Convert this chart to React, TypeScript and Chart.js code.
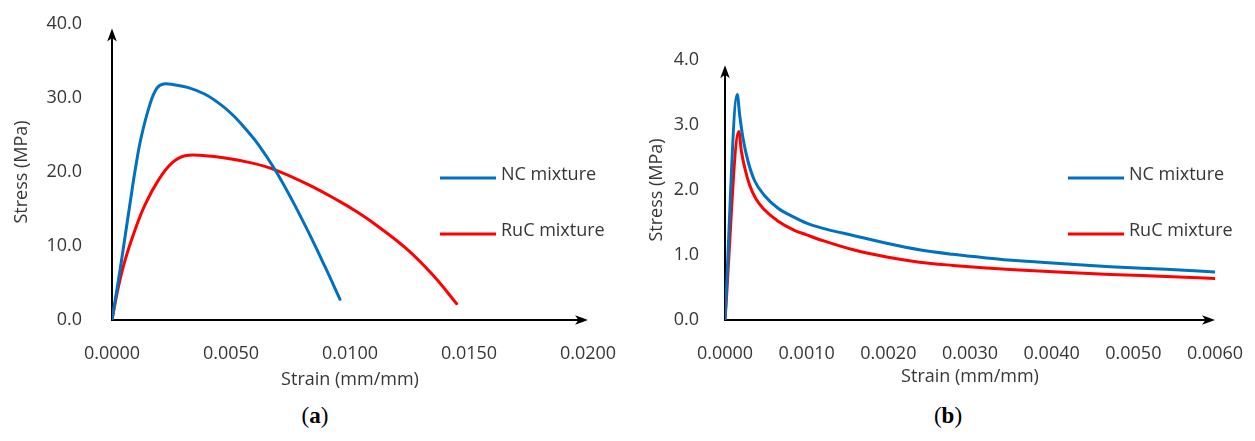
import React, { useEffect, useRef } from 'react';
import { Chart, registerables } from 'chart.js';

Chart.register(...registerables);

// ---------- shared ----------
const seriesLabels = ['NC mixture', 'RuC mixture'];
const seriesColors = ['#0070C0', '#FF0000'];

// ---------- panel (a) ----------
const aNcStrain = [0, 0.00034, 0.00055, 0.00076, 0.00097, 0.00122, 0.0016, 0.00188, 0.00216, 0.0026, 0.00321, 0.00391, 0.00461, 0.00517, 0.00559, 0.00615, 0.00685, 0.00755, 0.00825, 0.00895, 0.00958];
const aNcStress = [0, 6.8, 11.3, 15.8, 20.2, 24.6, 29.2, 31.3, 31.9, 31.8, 31.4, 30.5, 29.0, 27.4, 25.9, 23.7, 20.3, 16.3, 11.9, 7.2, 2.8];
const aRucStrain = [0, 0.00027, 0.00055, 0.00097, 0.00139, 0.00195, 0.00251, 0.00307, 0.00391, 0.00475, 0.0059, 0.00685, 0.00825, 0.00958, 0.0102, 0.01098, 0.01238, 0.0135, 0.01448];
const aRucStress = [0, 4.5, 8.1, 12.2, 15.6, 18.9, 21.2, 22.2, 22.2, 21.9, 21.2, 20.3, 18.3, 16.0, 14.8, 13.1, 9.6, 6.0, 2.2];
const aXTicks = [0, 0.005, 0.01, 0.015, 0.02];
const aYTicks = [0, 10, 20, 30, 40];

// ---------- panel (b) ----------
const bNcStrain = [0, 0.00015, 0.00018, 0.00022, 0.00028, 0.00036, 0.00048, 0.00065, 0.00085, 0.001, 0.0012, 0.00157, 0.00198, 0.00238, 0.00279, 0.0032, 0.0036, 0.0042, 0.00472, 0.0054, 0.006];
const bNcStress = [0, 3.47, 3.15, 2.8, 2.45, 2.15, 1.92, 1.72, 1.58, 1.49, 1.41, 1.3, 1.18, 1.08, 1.01, 0.955, 0.91, 0.86, 0.82, 0.78, 0.74];
const bRucStrain = [0, 0.00017, 0.0002, 0.00024, 0.0003, 0.00038, 0.00048, 0.00065, 0.00085, 0.001, 0.0012, 0.00157, 0.00198, 0.00238, 0.00279, 0.0032, 0.0036, 0.0042, 0.00472, 0.0054, 0.006];
const bRucStress = [0, 2.9, 2.6, 2.35, 2.08, 1.86, 1.7, 1.52, 1.38, 1.31, 1.22, 1.08, 0.97, 0.89, 0.84, 0.8, 0.77, 0.73, 0.7, 0.67, 0.64];
const bXTicks = [0, 0.001, 0.002, 0.003, 0.004, 0.005, 0.006];
const bYTicks = [0, 1, 2, 3, 4];

const FONT = "'Open Sans', 'Noto Sans', sans-serif";
const TEXT = '#363636';

function drawArrow(ctx: CanvasRenderingContext2D, x: number, y: number, angle: number) {
  ctx.save();
  ctx.translate(x, y);
  ctx.rotate(angle);
  ctx.beginPath();
  ctx.moveTo(0, 0);
  ctx.lineTo(-13, -4.8);
  ctx.lineTo(-9.5, 0);
  ctx.lineTo(-13, 4.8);
  ctx.closePath();
  ctx.fill();
  ctx.restore();
}

const axesLegendPlugin = {
  id: 'axesLegend',
  beforeDatasetsDraw(chart: any, _args: any, opts: any) {
    const { ctx } = chart;
    const xs = chart.scales.x;
    const ys = chart.scales.y;
    const x0 = xs.getPixelForValue(0);
    const y0 = ys.getPixelForValue(0);
    const xEnd = xs.getPixelForValue(xs.max);
    const yEnd = ys.getPixelForValue(opts.yArrowTip);
    ctx.save();
    ctx.strokeStyle = '#000';
    ctx.fillStyle = '#000';
    ctx.lineWidth = 2;
    ctx.beginPath();
    ctx.moveTo(x0, y0);
    ctx.lineTo(xEnd - 8, y0);
    ctx.stroke();
    ctx.beginPath();
    ctx.moveTo(x0, y0 + 1);
    ctx.lineTo(x0, yEnd + 8);
    ctx.stroke();
    drawArrow(ctx, xEnd, y0, 0);
    drawArrow(ctx, x0, yEnd, -Math.PI / 2);
    ctx.restore();
  },
  afterDatasetsDraw(chart: any, _args: any, opts: any) {
    const { ctx } = chart;
    ctx.save();
    chart.data.datasets.forEach((ds: any, i: number) => {
      const ly = opts.legendTop + i * opts.legendGap;
      ctx.strokeStyle = ds.borderColor;
      ctx.lineWidth = 3;
      ctx.lineCap = 'butt';
      ctx.beginPath();
      ctx.moveTo(opts.legendX, ly);
      ctx.lineTo(opts.legendX + 56, ly);
      ctx.stroke();
      ctx.fillStyle = TEXT;
      ctx.font = `18px ${FONT}`;
      ctx.textBaseline = 'middle';
      ctx.textAlign = 'left';
      ctx.fillText(ds.label, opts.legendX + 61, ly - 3);
    });
    ctx.restore();
  },
};

type Panel = {
  series: { x: number[]; y: number[] }[];
  xTicks: number[];
  yTicks: number[];
  xDigits: number;
  yDigits: number;
  yArrowTip: number;
  tension: number;
  mode: string;
  padTop: number;
  yWidth: number;
  yTickPad: number;
  yTitlePad: number;
  xTitlePad: number;
};

function clearPadding(scale: any) {
  scale.paddingLeft = 0;
  scale.paddingRight = 0;
  scale.paddingTop = 0;
  scale.paddingBottom = 0;
}

function makeConfig(p: Panel): any {
  return {
    type: 'line',
    data: {
      datasets: p.series.map((s, i) => ({
        label: seriesLabels[i],
        data: s.x.map((x, k) => ({ x, y: s.y[k] })),
        borderColor: seriesColors[i],
        backgroundColor: seriesColors[i],
        borderWidth: 3,
        pointRadius: 0,
        fill: false,
        tension: p.tension,
        cubicInterpolationMode: p.mode,
        borderCapStyle: 'round',
        borderJoinStyle: 'round',
      })),
    },
    options: {
      responsive: false,
      animation: false,
      devicePixelRatio: 1,
      layout: { autoPadding: false, padding: { top: p.padTop, right: 40, left: 0, bottom: 0 } },
      plugins: {
        legend: { display: false },
        tooltip: { enabled: false },
        axesLegend: { yArrowTip: p.yArrowTip, legendX: 440, legendTop: 178, legendGap: 56 },
      },
      scales: {
        x: {
          type: 'linear',
          min: p.xTicks[0],
          max: p.xTicks[p.xTicks.length - 1],
          grid: { display: false, drawTicks: false },
          border: { display: false },
          afterBuildTicks: (scale: any) => {
            scale.ticks = p.xTicks.map((v) => ({ value: v }));
          },
          afterFit: (scale: any) => {
            scale.height = 80;
            clearPadding(scale);
          },
          ticks: {
            padding: 23,
            maxRotation: 0,
            autoSkip: false,
            color: TEXT,
            font: { family: FONT, size: 18 },
            callback: (v: any) => Number(v).toFixed(p.xDigits),
          },
          title: {
            display: true,
            text: 'Strain (mm/mm)',
            color: TEXT,
            font: { family: FONT, size: 18 },
            padding: { top: 0, bottom: p.xTitlePad },
          },
        },
        y: {
          type: 'linear',
          min: p.yTicks[0],
          max: p.yTicks[p.yTicks.length - 1],
          grid: { display: false, drawTicks: false },
          border: { display: false },
          afterBuildTicks: (scale: any) => {
            scale.ticks = p.yTicks.map((v) => ({ value: v }));
          },
          afterFit: (scale: any) => {
            scale.width = p.yWidth;
            clearPadding(scale);
          },
          ticks: {
            padding: p.yTickPad,
            autoSkip: false,
            color: TEXT,
            font: { family: FONT, size: 18 },
            callback: (v: any) => Number(v).toFixed(p.yDigits),
          },
          title: {
            display: true,
            text: 'Stress (MPa)',
            color: TEXT,
            font: { family: FONT, size: 18 },
            padding: { top: p.yTitlePad, bottom: 0 },
          },
        },
      },
    },
    plugins: [axesLegendPlugin],
  };
}

const panelA: Panel = {
  series: [
    { x: aNcStrain, y: aNcStress },
    { x: aRucStrain, y: aRucStress },
  ],
  xTicks: aXTicks,
  yTicks: aYTicks,
  xDigits: 4,
  yDigits: 1,
  yArrowTip: 39.4,
  tension: 0.4,
  mode: 'default',
  padTop: 24,
  yWidth: 112,
  yTickPad: 30,
  yTitlePad: 11,
  xTitlePad: 9,
};

const panelB: Panel = {
  series: [
    { x: bNcStrain, y: bNcStress },
    { x: bRucStrain, y: bRucStress },
  ],
  xTicks: bXTicks,
  yTicks: bYTicks,
  xDigits: 4,
  yDigits: 1,
  yArrowTip: 3.92,
  tension: 0.4,
  mode: 'monotone',
  padTop: 60,
  yWidth: 97,
  yTickPad: 26,
  yTitlePad: 18,
  xTitlePad: 12,
};

function ChartCanvas({ panel, width, height }: { panel: Panel; width: number; height: number }) {
  const ref = useRef<HTMLCanvasElement | null>(null);
  useEffect(() => {
    if (!ref.current) return;
    const chart = new Chart(ref.current, makeConfig(panel));
    return () => chart.destroy();
  }, [panel]);
  return <canvas ref={ref} width={width} height={height} style={{ width, height, display: 'block' }} />;
}

const captionStyle: React.CSSProperties = {
  position: 'absolute',
  top: 403,
  fontFamily: "'Liberation Serif', 'DejaVu Serif', serif",
  fontSize: 23,
  color: '#000',
  transform: 'translateX(-50%)',
  whiteSpace: 'nowrap',
};

export default function App() {
  return (
    <div style={{ position: 'absolute', left: 0, top: 0, width: 1255, height: 441, background: '#fff', overflow: 'hidden' }}>
      <div style={{ position: 'absolute', left: 0, top: 0 }}>
        <ChartCanvas panel={panelA} width={628} height={400} />
      </div>
      <div style={{ position: 'absolute', left: 628, top: 0 }}>
        <ChartCanvas panel={panelB} width={627} height={400} />
      </div>
      <div style={{ ...captionStyle, left: 315 }}>
        (<b>a</b>)
      </div>
      <div style={{ ...captionStyle, left: 948 }}>
        (<b>b</b>)
      </div>
    </div>
  );
}
